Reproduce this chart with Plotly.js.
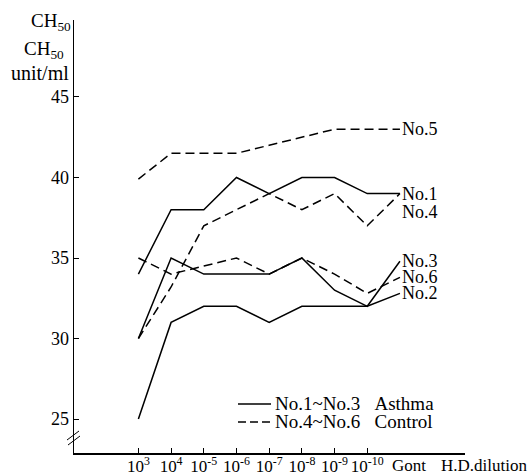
<!DOCTYPE html>
<html>
<head>
<meta charset="utf-8">
<script src="https://cdn.plot.ly/plotly-3.0.1.min.js"></script>
<style>html,body{margin:0;padding:0;background:#fff;}#chart{width:529px;height:476px;}</style>
</head>
<body>
<div id="chart"></div>
<script>
// ---- data ----
var categories = ["10<sup>3</sup>", "10<sup>4</sup>", "10<sup>-5</sup>", "10<sup>-6</sup>", "10<sup>-7</sup>", "10<sup>-8</sup>", "10<sup>-9</sup>", "10<sup>-10</sup>", "Gont"];
var no1 = [34, 38, 38, 40, 39, 40, 40, 39, 39];
var no2 = [25, 31, 32, 32, 31, 32, 32, 32, 32.8];
var no3 = [30, 35, 34, 34, 34, 35, 33, 32, 34.8];
var no4 = [30, 33.2, 37, 38, 39, 38, 39, 37, 39];
var no5 = [39.9, 41.5, 41.5, 41.5, 42, 42.5, 43, 43, 43];
var no6 = [35, 34, 34.5, 35, 34, 35, 34, 32.8, 33.8];
var seriesNames = ["No.1", "No.2", "No.3", "No.4", "No.5", "No.6"];
var legendTexts = ["No.1~No.3\u00a0\u00a0\u00a0Asthma", "No.4~No.6\u00a0\u00a0\u00a0Control"];
var yTicks = [25, 30, 35, 40, 45];

// ---- layout helpers ----
var W = 529, H = 476;
var M = {l: 74, r: 64, t: 20, b: 23};
var PW = W - M.l - M.r, PH = H - M.t - M.b;
function px(x) { return (x - M.l) / PW; }
function py(y) { return (H - M.b - y) / PH; }

var FONT = "'Liberation Serif', 'Times New Roman', serif";
var idx = categories.map(function (c, i) { return i; });
var allSeries = [no1, no2, no3, no4, no5, no6];
var solid = [true, true, true, false, false, false];
var DASH = "9px,5px";

var traces = allSeries.map(function (s, k) {
  return {
    x: idx, y: s, type: "scatter", mode: "lines",
    name: seriesNames[k], showlegend: false,
    line: {color: "#000", width: 1.5, dash: solid[k] ? "solid" : DASH},
    hoverinfo: "skip"
  };
});

var labelShift = [0, 0, 0, -18, 0, 0];
var annotations = allSeries.map(function (s, k) {
  return {
    x: idx[idx.length - 1], y: s[s.length - 1], xref: "x", yref: "y",
    text: seriesNames[k], showarrow: false, xanchor: "left", yanchor: "middle",
    xshift: 1, yshift: labelShift[k], borderpad: 0,
    font: {family: FONT, size: 18, color: "#000"}
  };
});
annotations.push(
  {x: idx[idx.length - 1], y: py(466), xref: "x", yref: "paper", text: categories[categories.length - 1],
   showarrow: false, xanchor: "center", yanchor: "middle", xshift: 9, font: {family: FONT, size: 17, color: "#000"}},
  {x: px(484), y: py(466), xref: "paper", yref: "paper", text: "H.D.dilution",
   showarrow: false, xanchor: "center", yanchor: "middle", font: {family: FONT, size: 17, color: "#000"}},
  {x: px(72), y: py(22), xref: "paper", yref: "paper", text: "CH<sub>50</sub>",
   showarrow: false, xanchor: "right", yanchor: "middle", borderpad: 0, font: {family: FONT, size: 19, color: "#000"}},
  {x: px(44), y: py(50), xref: "paper", yref: "paper", text: "CH<sub>50</sub>",
   showarrow: false, xanchor: "center", yanchor: "middle", borderpad: 0, font: {family: FONT, size: 19, color: "#000"}},
  {x: px(40), y: py(73), xref: "paper", yref: "paper", text: "unit/ml",
   showarrow: false, xanchor: "center", yanchor: "middle", borderpad: 0, font: {family: FONT, size: 20, color: "#000"}},
  {x: px(274), y: py(403), xref: "paper", yref: "paper", text: legendTexts[0],
   showarrow: false, xanchor: "left", yanchor: "middle", borderpad: 0, font: {family: FONT, size: 19, color: "#000"}},
  {x: px(274), y: py(421), xref: "paper", yref: "paper", text: legendTexts[1],
   showarrow: false, xanchor: "left", yanchor: "middle", borderpad: 0, font: {family: FONT, size: 19, color: "#000"}}
);

var shapes = [
  // axis break marks
  {type: "line", xref: "paper", yref: "paper", x0: px(67), y0: py(440), x1: px(79), y1: py(431), line: {color: "#000", width: 1}},
  {type: "line", xref: "paper", yref: "paper", x0: px(68), y0: py(445), x1: px(80), y1: py(436), line: {color: "#000", width: 1}},
  // legend samples
  {type: "line", xref: "paper", yref: "paper", x0: px(238), y0: py(404), x1: px(271), y1: py(404), line: {color: "#000", width: 1.5}},
  {type: "line", xref: "paper", yref: "paper", x0: px(238), y0: py(422), x1: px(271), y1: py(422), line: {color: "#000", width: 1.5, dash: "8px,4px"}}
];

var layout = {
  width: W, height: H,
  margin: M,
  paper_bgcolor: "#fff", plot_bgcolor: "#fff",
  font: {family: FONT, color: "#000"},
  showlegend: false,
  xaxis: {
    range: [-1.97, 9.99],
    tickvals: idx.slice(0, idx.length - 1), ticktext: categories.slice(0, categories.length - 1),
    showgrid: false, zeroline: false, showline: true, linecolor: "#000", linewidth: 1.5,
    ticks: "inside", ticklen: 5, tickcolor: "#000", tickwidth: 1,
    ticklabelstandoff: -3,
    tickfont: {family: FONT, size: 17, color: "#000"}, fixedrange: true
  },
  yaxis: {
    range: [22.89, 49.78],
    tickvals: yTicks, ticktext: yTicks.map(String),
    showgrid: false, zeroline: false, showline: true, linecolor: "#000", linewidth: 1.5,
    ticks: "inside", ticklen: 5, tickcolor: "#000", tickwidth: 1,
    tickfont: {family: FONT, size: 18, color: "#000"}, fixedrange: true
  },
  annotations: annotations,
  shapes: shapes
};

Plotly.newPlot("chart", traces, layout, {displayModeBar: false, staticPlot: true});
</script>
</body>
</html>
